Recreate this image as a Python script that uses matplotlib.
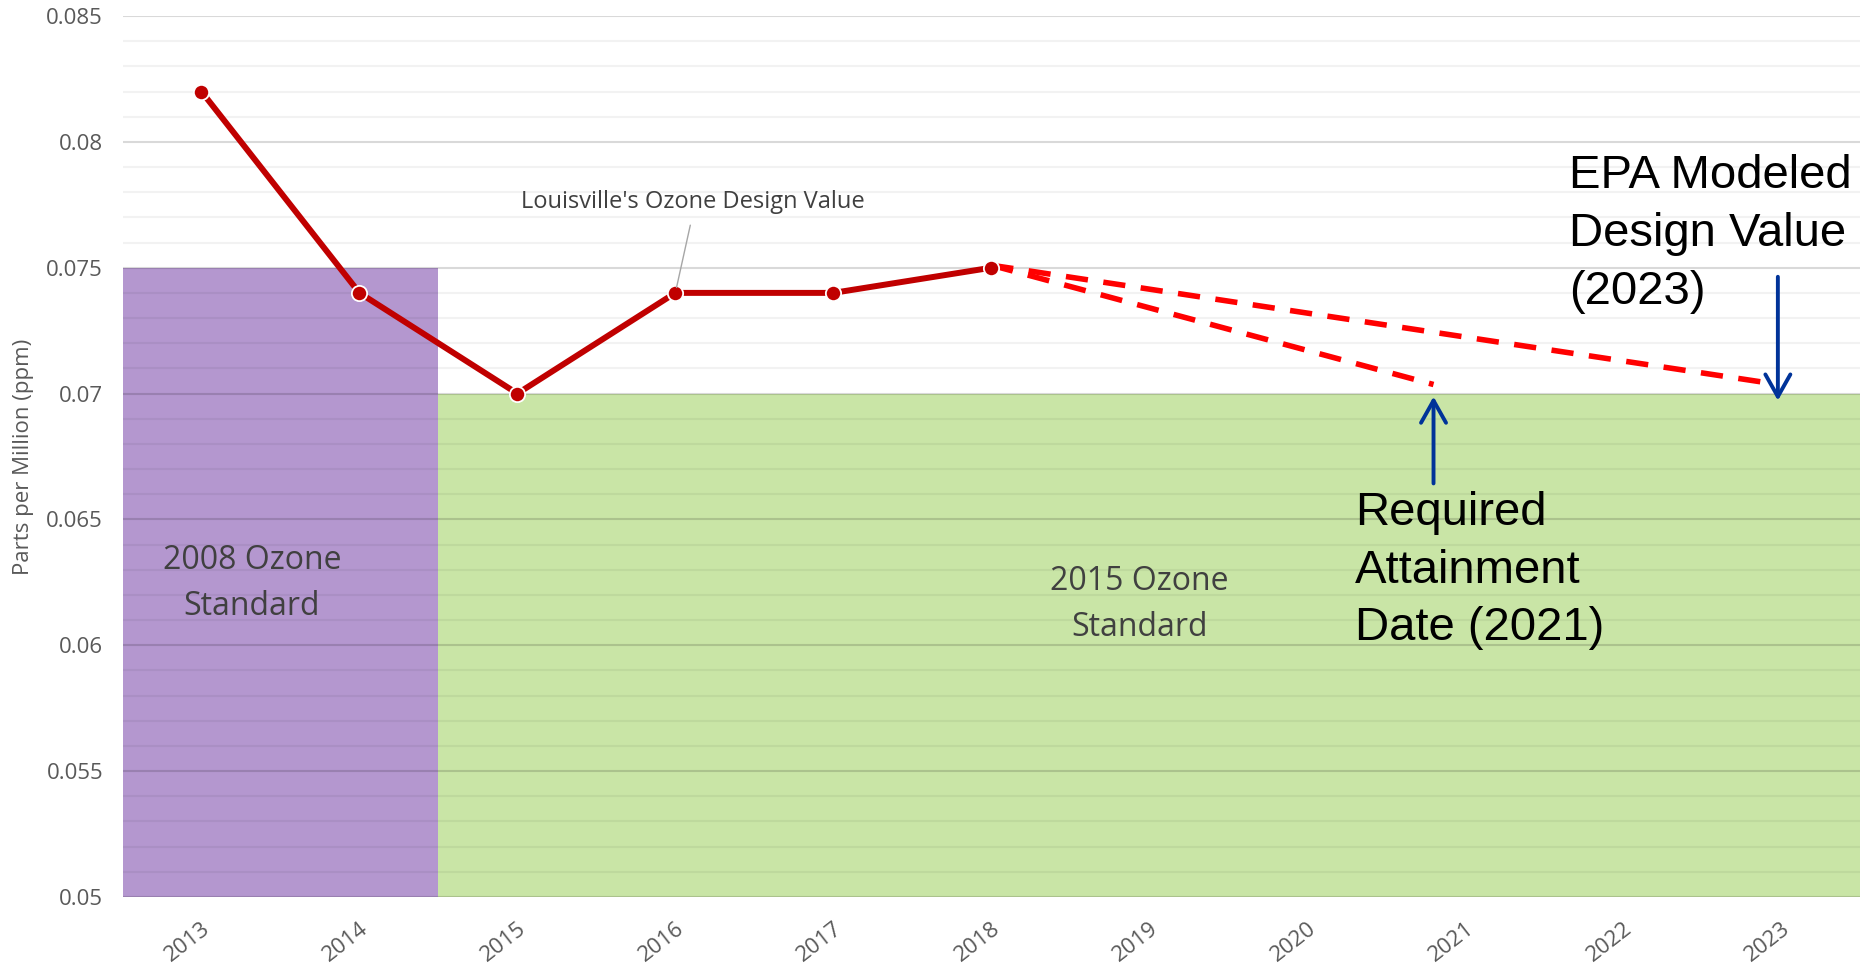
import numpy as np
import matplotlib.pyplot as plt
from matplotlib.ticker import MultipleLocator

# data
years = ['2013', '2014', '2015', '2016', '2017', '2018', '2019', '2020', '2021', '2022', '2023']
design_value = [0.082, 0.074, 0.070, 0.074, 0.074, 0.075]
standard = [0.075, 0.075, 0.070, 0.070, 0.070, 0.070, 0.070, 0.070, 0.070, 0.070, 0.070]
standard_colors = ['#B497CF'] * 2 + ['#C9E5A6'] * 9

# hand-drawn projections (category index, ppm)
proj_2021_x = [5, 7.8]
proj_2021_y = [0.0751, 0.07036]
proj_2023_x = [5, 9.9]
proj_2023_y = [0.0751, 0.07044]

# arrows (x, y_from, y_to)
arrow_2023 = (9.98, 0.07464, 0.06972)
arrow_2021 = (7.80, 0.06643, 0.06988)

fig = plt.figure(figsize=(18.66, 9.63), dpi=100)
ax = fig.add_axes([122.5 / 1866, 1 - 897 / 963, (1860 - 122.5) / 1866, (897 - 16) / 963])

x = np.arange(len(years))
ax.bar(x, standard, width=1.0, color=standard_colors, zorder=1)

ax.set_xlim(-0.5, len(years) - 0.5)
ax.set_ylim(0.05, 0.085)
ax.yaxis.set_major_locator(MultipleLocator(0.005))
ax.yaxis.set_minor_locator(MultipleLocator(0.001))
ax.set_axisbelow(False)
ax.grid(axis='y', which='major', color='black', alpha=0.15, lw=1.5, zorder=2)
ax.grid(axis='y', which='minor', color='black', alpha=0.05, lw=1.5, zorder=2)
for s in ax.spines.values():
    s.set_visible(False)
ax.tick_params(axis='both', which='both', length=0, colors='#595959')

ax.set_yticks([0.05, 0.055, 0.06, 0.065, 0.07, 0.075, 0.08, 0.085])
ax.set_yticklabels(['0.05', '0.055', '0.06', '0.065', '0.07', '0.075', '0.08', '0.085'],
                   fontsize=16, family='Open Sans')
ax.tick_params(axis='y', pad=14)
ax.set_xticks(x)
ax.set_xticklabels(years, fontsize=16, family='Open Sans', rotation=38,
                   ha='right', rotation_mode='anchor')
ax.tick_params(axis='x', pad=15)
ax.set_ylabel('Parts per Million (ppm)', fontsize=16, family='Open Sans', color='#595959')
ax.yaxis.set_label_coords(-0.051, 0.5)

ax.plot(proj_2021_x, proj_2021_y, color='#FF0000', lw=4, dashes=(4, 2.8), zorder=4)
ax.plot(proj_2023_x, proj_2023_y, color='#FF0000', lw=4, dashes=(4, 2.8), zorder=4)
ax.plot(x[:len(design_value)], design_value, color='#C00000', lw=4.3, marker='o',
        markersize=11, markerfacecolor='#C00000', markeredgecolor='white',
        markeredgewidth=1.3, zorder=5)

ax.annotate("Louisville's Ozone Design Value", xy=(3, 0.074), xytext=(3.11, 0.0776),
            ha='center', va='center', fontsize=17, family='Open Sans', color='#404040',
            arrowprops=dict(arrowstyle='-', color='#A6A6A6', lw=1,
                            relpos=(0.5, 0), shrinkA=6, shrinkB=4), zorder=6)

ax.text(0.32, 0.06245, '2008 Ozone\nStandard', ha='center', va='center', fontsize=23,
        family='Open Sans', color='#404040', linespacing=1.53, zorder=6)
ax.text(5.94, 0.06162, '2015 Ozone\nStandard', ha='center', va='center', fontsize=23,
        family='Open Sans', color='#404040', linespacing=1.53, zorder=6)

ax.text(8.658, 0.0795, 'EPA Modeled\nDesign Value\n(2023)', ha='left', va='top',
        fontsize=34, family='Liberation Sans', color='black', linespacing=1.4, zorder=6)
ax.text(7.303, 0.06613, 'Required\nAttainment\nDate (2021)', ha='left', va='top',
        fontsize=34, family='Liberation Sans', color='black', linespacing=1.4, zorder=6)

for ax_x, y0, y1 in (arrow_2023, arrow_2021):
    ax.annotate('', xy=(ax_x, y1), xytext=(ax_x, y0),
                arrowprops=dict(arrowstyle='->,head_length=0.8,head_width=0.45',
                                color='#003399', lw=2.8, mutation_scale=20,
                                shrinkA=0, shrinkB=0), zorder=6)

fig.savefig('out.png', dpi=100)
